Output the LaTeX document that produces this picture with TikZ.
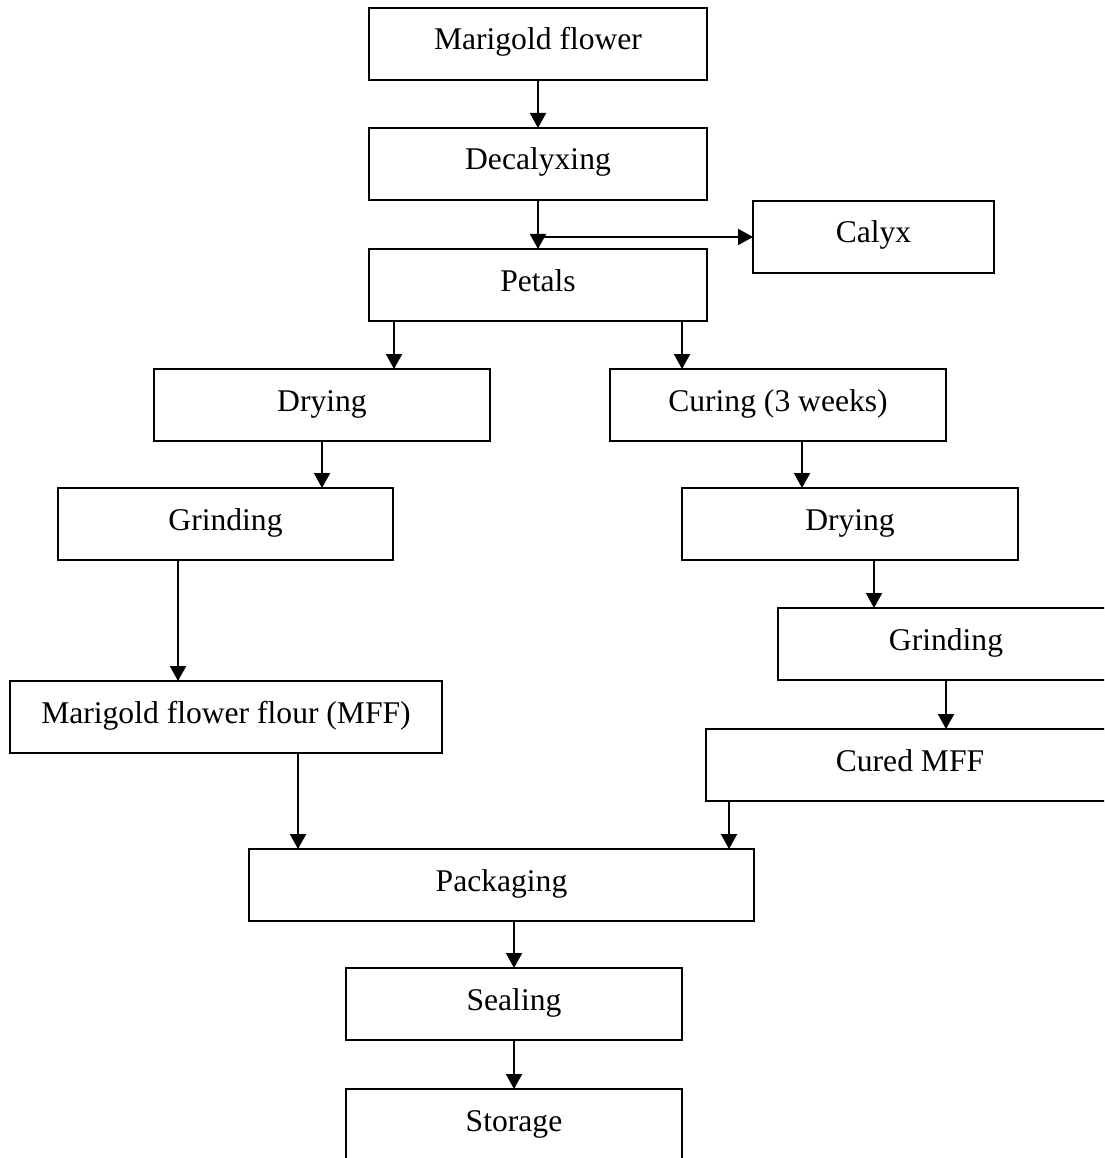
\documentclass[tikz,border=0pt]{standalone}
\usepackage{fontspec}
\setmainfont{Liberation Serif}
\usetikzlibrary{arrows.meta}
\begin{document}
\begin{tikzpicture}[x=1pt,y=-1pt,
  box/.style={draw=black,line width=2.5pt,rectangle,inner sep=0pt,outer sep=0pt,
    minimum height=72pt,text height=42pt,text depth=30pt,align=center,
    font=\fontsize{31.6}{38}\selectfont},
  arr/.style={draw=black,line width=2pt,-{Triangle[width=16pt,length=15pt]}}]
\useasboundingbox (0,0) rectangle (1104,1158);
\clip (0,0) rectangle (1104,1158);
\node[box,minimum width=338pt] (mf) at (538,44) {Marigold flower};
\node[box,minimum width=338pt] (dec) at (538,164) {Decalyxing};
\node[box,minimum width=241pt] (cal) at (873.5,237) {Calyx};
\node[box,minimum width=338pt] (pet) at (538,285) {Petals};
\node[box,minimum width=336pt] (dryl) at (322,405) {Drying};
\node[box,minimum width=336pt] (cur) at (778,405) {Curing (3 weeks)};
\node[box,minimum width=335pt] (grl) at (225.5,524) {Grinding};
\node[box,minimum width=336pt] (dryr) at (850,524) {Drying};
\node[box,minimum width=336pt] (grr) at (946,644) {Grinding};
\node[box,minimum width=432pt] (mff) at (226,717) {Marigold flower flour (MFF)};
\node[box,minimum width=408pt] (cmff) at (910,765) {Cured MFF};
\node[box,minimum width=505pt] (pack) at (501.5,885) {Packaging};
\node[box,minimum width=336pt] (seal) at (514,1004) {Sealing};
\node[box,minimum width=336pt] (stor) at (514,1125) {Storage};
\coordinate (br) at (dec.south |- cal.west);
\draw[arr] (mf.south) -- (dec.north);
\draw[arr] (dec.south) -- (pet.north);
\draw[arr] (br) -- (cal.west);
\draw[arr] (pet.south -| 394,0) -- (dryl.north -| 394,0);
\draw[arr] (pet.south -| 682,0) -- (cur.north -| 682,0);
\draw[arr] (dryl.south) -- (grl.north -| dryl.south);
\draw[arr] (cur.south -| 802,0) -- (dryr.north -| 802,0);
\draw[arr] (grl.south -| 178,0) -- (mff.north -| 178,0);
\draw[arr] (dryr.south -| 874,0) -- (grr.north -| 874,0);
\draw[arr] (grr.south) -- (cmff.north -| grr.south);
\draw[arr] (mff.south -| 298,0) -- (pack.north -| 298,0);
\draw[arr] (cmff.south -| 729,0) -- (pack.north -| 729,0);
\draw[arr] (pack.south -| seal.north) -- (seal.north);
\draw[arr] (seal.south) -- (stor.north);
\end{tikzpicture}
\end{document}
